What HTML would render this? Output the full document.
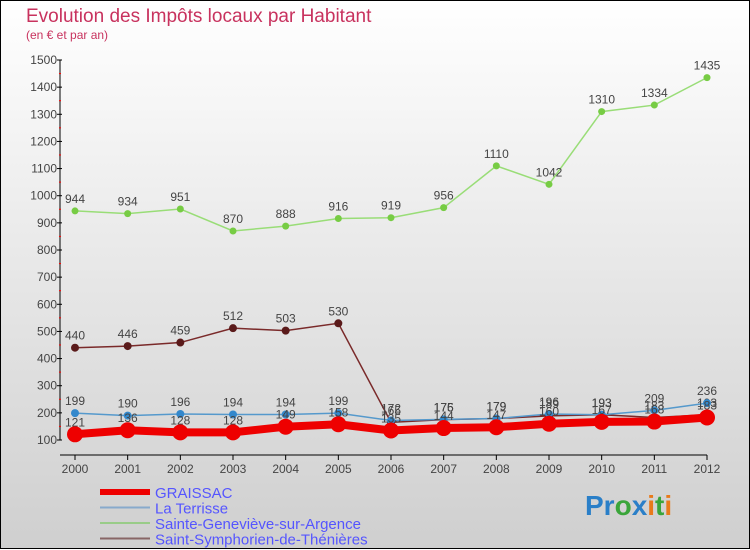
<!DOCTYPE html>
<html><head><meta charset="utf-8"><style>
body{margin:0;}
#wrap{width:750px;height:550px;position:relative;overflow:hidden;font-family:"Liberation Sans","DejaVu Sans",sans-serif;}
</style></head><body>
<div id="wrap">
<svg id="svg" width="750" height="550" xmlns="http://www.w3.org/2000/svg">
<defs><linearGradient id="bg" x1="0" y1="0" x2="0" y2="1"><stop offset="0" stop-color="#ffffff"/><stop offset="1" stop-color="#cfcfcf"/></linearGradient></defs>
<rect x="0.5" y="0.5" width="749" height="548" fill="url(#bg)" stroke="#000"/>
<text x="26" y="22" font-size="19" fill="#c8325e">Evolution des Impôts locaux par Habitant</text>
<text x="26" y="39" font-size="12" fill="#c8325e">(en € et par an)</text>
<g id="axes"></g><g id="series"></g><g id="legend"></g>
<text x="585" y="515" font-size="28" font-weight="bold"><tspan fill="#2a7fc8">Pr</tspan><tspan fill="#3aa53a">o</tspan><tspan fill="#2a7fc8">x</tspan><tspan fill="#e87a1a">i</tspan><tspan fill="#3aa53a">t</tspan><tspan fill="#e87a1a">i</tspan></text>
</svg></div>
<script>
const years=[2000,2001,2002,2003,2004,2005,2006,2007,2008,2009,2010,2011,2012];
const yTicks=[100,200,300,400,500,600,700,800,900,1000,1100,1200,1300,1400,1500];
const graissac=[121,136,128,128,149,158,135,144,147,160,167,168,183];
const terrisse=[199,190,196,194,194,199,172,176,179,196,193,209,236];
const genevieve=[944,934,951,870,888,916,919,956,1110,1042,1310,1334,1435];
const symphorien=[440,446,459,512,503,530,165,175,179,189,193,183,193];
const seriesNames=["GRAISSAC","La Terrisse","Sainte-Geneviève-sur-Argence","Saint-Symphorien-de-Thénières"];
const NS="http://www.w3.org/2000/svg";
function X(i){return 75+i*(707-75)/(years.length-1);}
function Y(v){return 440-(v-100)*(380/1400);}
function mk(tag,attrs,parent){const e=document.createElementNS(NS,tag);for(const k in attrs)e.setAttribute(k,attrs[k]);parent.appendChild(e);return e;}
const axes=document.getElementById('axes');
let a=mk('line',{x1:60,y1:60,x2:60,y2:440,stroke:'#000'},axes);


a=mk('line',{x1:60,y1:455,x2:707,y2:455,stroke:'#000'},axes);


yTicks.forEach(v=>{
 const y=Y(v);
 mk('line',{x1:57,y1:y,x2:62,y2:y,stroke:'#000'},axes);
 if(v<1500){mk('line',{x1:59,y1:y-13.6,x2:61,y2:y-13.6,stroke:'#f00'},axes);}
 const t=mk('text',{x:57,y:y+4,'font-size':12,fill:'#444','text-anchor':'end'},axes);
 t.textContent=v;
 
 
});
years.forEach((yr,i)=>{
 const x=X(i);
 mk('line',{x1:x,y1:455,x2:x,y2:460,stroke:'#000'},axes);
 const t=mk('text',{x:x,y:473,'font-size':12,fill:'#444','text-anchor':'middle'},axes);
 t.textContent=yr;
 
 
});
const sg=document.getElementById('series');
function draw(vals,color,dot,w,r,name){
 const g=mk('g',{},sg);
 
 
 mk('polyline',{points:vals.map((v,i)=>X(i)+','+Y(v)).join(' '),fill:'none',stroke:color,'stroke-width':w},g);
 vals.forEach((v,i)=>{
  const c=mk('circle',{cx:X(i),cy:Y(v),r:r,fill:dot},g);
  
  
  const t=mk('text',{x:X(i),y:Y(v)-8,'font-size':12,fill:'#444','text-anchor':'middle'},g);
  t.textContent=v;
  
  
 });
}
draw(genevieve,'#99dd77','#77cc44',1.5,3.5,'series-sainte-genevieve');
draw(symphorien,'#7a2a2a','#5a1a1a',1.5,4,'series-saint-symphorien');
draw(terrisse,'#5599cc','#3388cc',1.5,4,'series-la-terrisse');
draw(graissac,'#ee0000','#ee0000',8,8,'series-graissac');
const lg=document.getElementById('legend');
const lcol=['#ee0000','#88aacc','#99cc88','#886666'];
const lw=[6,2,2,2];
seriesNames.forEach((n,i)=>{
 const y=492+i*15.5;
 const l=mk('line',{x1:100,y1:y,x2:150,y2:y,stroke:lcol[i],'stroke-width':lw[i]},lg);
 
 
 const t=mk('text',{x:155,y:y+6,'font-size':15,fill:'#5555ff'},lg);
 t.textContent=n;
 
 
});
</script>
</body></html>
